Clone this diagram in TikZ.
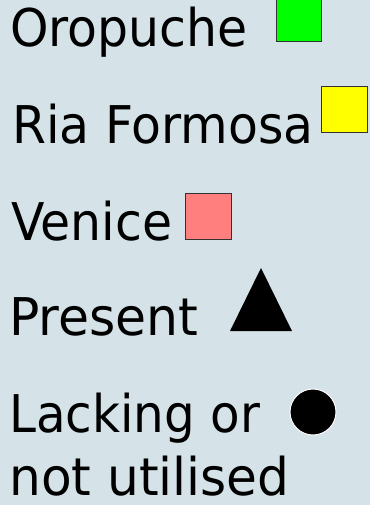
\documentclass[tikz,border=0pt]{standalone}
\usepackage{fontspec}
\setmainfont{DejaVu Sans}
\definecolor{bgc}{RGB}{213,227,232}
\definecolor{oro}{RGB}{0,255,0}
\definecolor{ria}{RGB}{255,255,0}
\definecolor{ven}{RGB}{255,127,127}
\definecolor{edge}{RGB}{50,50,50}
\newcommand{\sq}[2][0.94]{\scalebox{#1}[1]{#2}}
\tikzset{
  lbl/.style={anchor=base west, inner sep=0pt, font=\fontsize{52}{60}\selectfont, text=black},
  swatch/.style={draw=edge, line width=1pt},
}
\begin{document}
\begin{tikzpicture}[x=1pt,y=-1pt]
\fill[bgc] (0,0) rectangle (370,505);
\useasboundingbox (0,0) rectangle (370,505);
\node[lbl] (t1) at (10,47) {\sq{Oropuche}};
\node[lbl] (t2) at (12,143) {\sq{Ria Formosa}};
\node[lbl] (t3) at (11,240) {\sq{Venice}};
\node[lbl] (t4) at (9,335) {\sq[0.97]{Present}};
\node[lbl] (t5) at (9,432) {\sq[0.93]{Lacking or}};
\node[lbl] (t6) at (9,495) {\sq[0.965]{not utilised}};
\filldraw[swatch, fill=oro] (276,-2) rectangle (321,42);
\filldraw[swatch, fill=ria] (321,87) rectangle (367,133);
\filldraw[swatch, fill=ven] (185,193) rectangle (231,239);
\fill[black] (230,331) -- (261,268) -- (292,331) -- cycle;
\filldraw[fill=black, draw=white, line width=1pt] (313,412) circle (23);
\end{tikzpicture}
\end{document}
